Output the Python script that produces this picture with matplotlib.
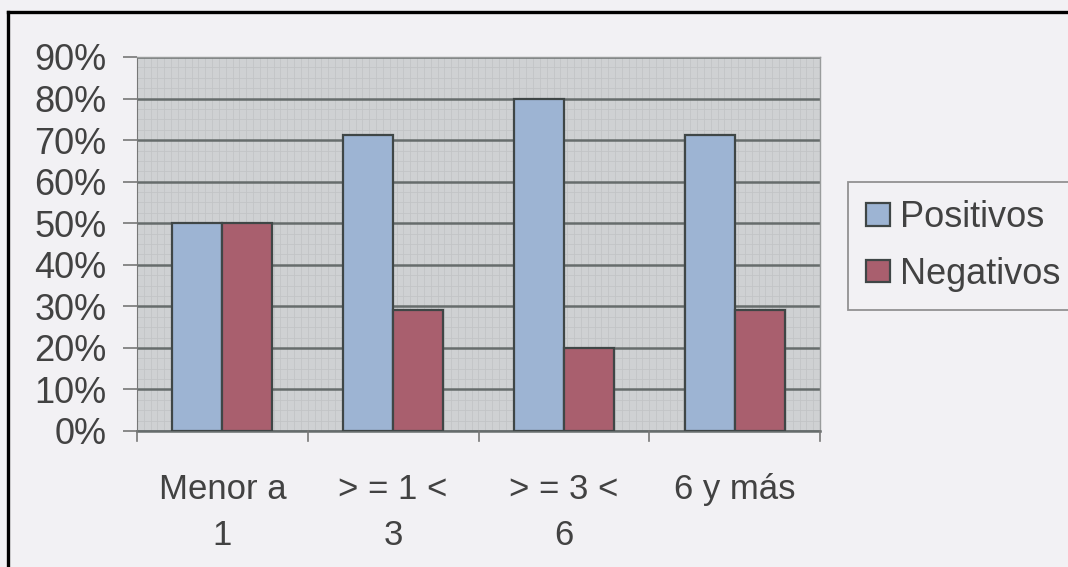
import matplotlib
matplotlib.use("Agg")
import matplotlib.pyplot as plt
import numpy as np

categories = ["Menor a\n1", "> = 1 <\n3", "> = 3 <\n6", "6 y más"]
positivos = [50, 71.3, 80, 71.3]
negativos = [50, 29, 20, 29]
yticks = [0, 10, 20, 30, 40, 50, 60, 70, 80, 90]
ytick_labels = ["0%", "10%", "20%", "30%", "40%", "50%", "60%", "70%", "80%", "90%"]

plt.rcParams['font.family'] = ['Liberation Sans', 'DejaVu Sans']

W, H = 1068, 567
fig = plt.figure(figsize=(W / 100, H / 100), dpi=100)
bg = "#f2f1f4"
fig.patch.set_facecolor(bg)
txt = "#424242"

# outer frame (only top and left visible)
fig.add_artist(plt.Line2D([8 / W, 8 / W], [0, 1 - 12 / H], color="black", lw=2.4, transform=fig.transFigure))
fig.add_artist(plt.Line2D([8 / W, 1], [1 - 12 / H, 1 - 12 / H], color="black", lw=2.4, transform=fig.transFigure))

left, right, top, bottom = 137, 820, 57, 431
ax = fig.add_axes([left / W, 1 - bottom / H, (right - left) / W, (bottom - top) / H])
ax.set_facecolor("#cfd1d3")

x = np.arange(len(categories))
bw = 0.293
blue = "#9db4d3"
red = "#a95f6e"
edge = "#3f4646"
ax.bar(x - bw / 2, positivos, bw, color=blue, edgecolor=edge, linewidth=1.6, label="Positivos", zorder=3)
ax.bar(x + bw / 2, negativos, bw, color=red, edgecolor=edge, linewidth=1.6, label="Negativos", zorder=3)

ax.set_xlim(-0.5, len(categories) - 0.5)
ax.set_ylim(0, 90)

# faint fine grid texture
ax.set_yticks(np.arange(0, 90, 2.5), minor=True)
ax.set_xticks(np.arange(-0.5, 3.5, 0.04), minor=True)
ax.grid(True, which="minor", color="#c2c4c6", lw=0.6, zorder=0)
ax.tick_params(which="minor", length=0)

ax.set_yticks(yticks)
ax.set_yticklabels(ytick_labels)
ax.yaxis.grid(True, which="major", color="#666c6c", lw=1.8, zorder=1)
ax.xaxis.grid(False, which="major")

ax.set_xticks(x)
ax.set_xticklabels(categories, linespacing=1.5)
ax.tick_params(axis="x", which="major", length=0, pad=30, labelsize=25, labelcolor=txt)
ax.tick_params(axis="y", which="major", length=10, width=1.2, color="#777777", pad=12, labelsize=26, labelcolor=txt)

# boundary tick marks on x axis
for b in np.arange(-0.5, len(categories), 1.0):
    ax.plot([b, b], [0, -2.5], color="#777777", lw=1.2, clip_on=False, zorder=4)

for s in ["top", "right"]:
    ax.spines[s].set_color("#9a9c9c")
    ax.spines[s].set_linewidth(1.0)
ax.spines["left"].set_color("#777777")
ax.spines["bottom"].set_color("#666c6c")
ax.spines["bottom"].set_linewidth(1.8)

leg = fig.legend(loc="upper left", bbox_to_anchor=(848 / W, 1 - 182 / H),
                 fontsize=26, frameon=True, fancybox=False, edgecolor="#7a7a7a",
                 facecolor=bg, handlelength=0.65, handleheight=0.6, handletextpad=0.3,
                 labelspacing=0.6, borderpad=0.5, borderaxespad=0)
leg.get_frame().set_linewidth(1.3)
for t in leg.get_texts():
    t.set_color(txt)

fig.savefig("out.png", dpi=100, facecolor=bg)
